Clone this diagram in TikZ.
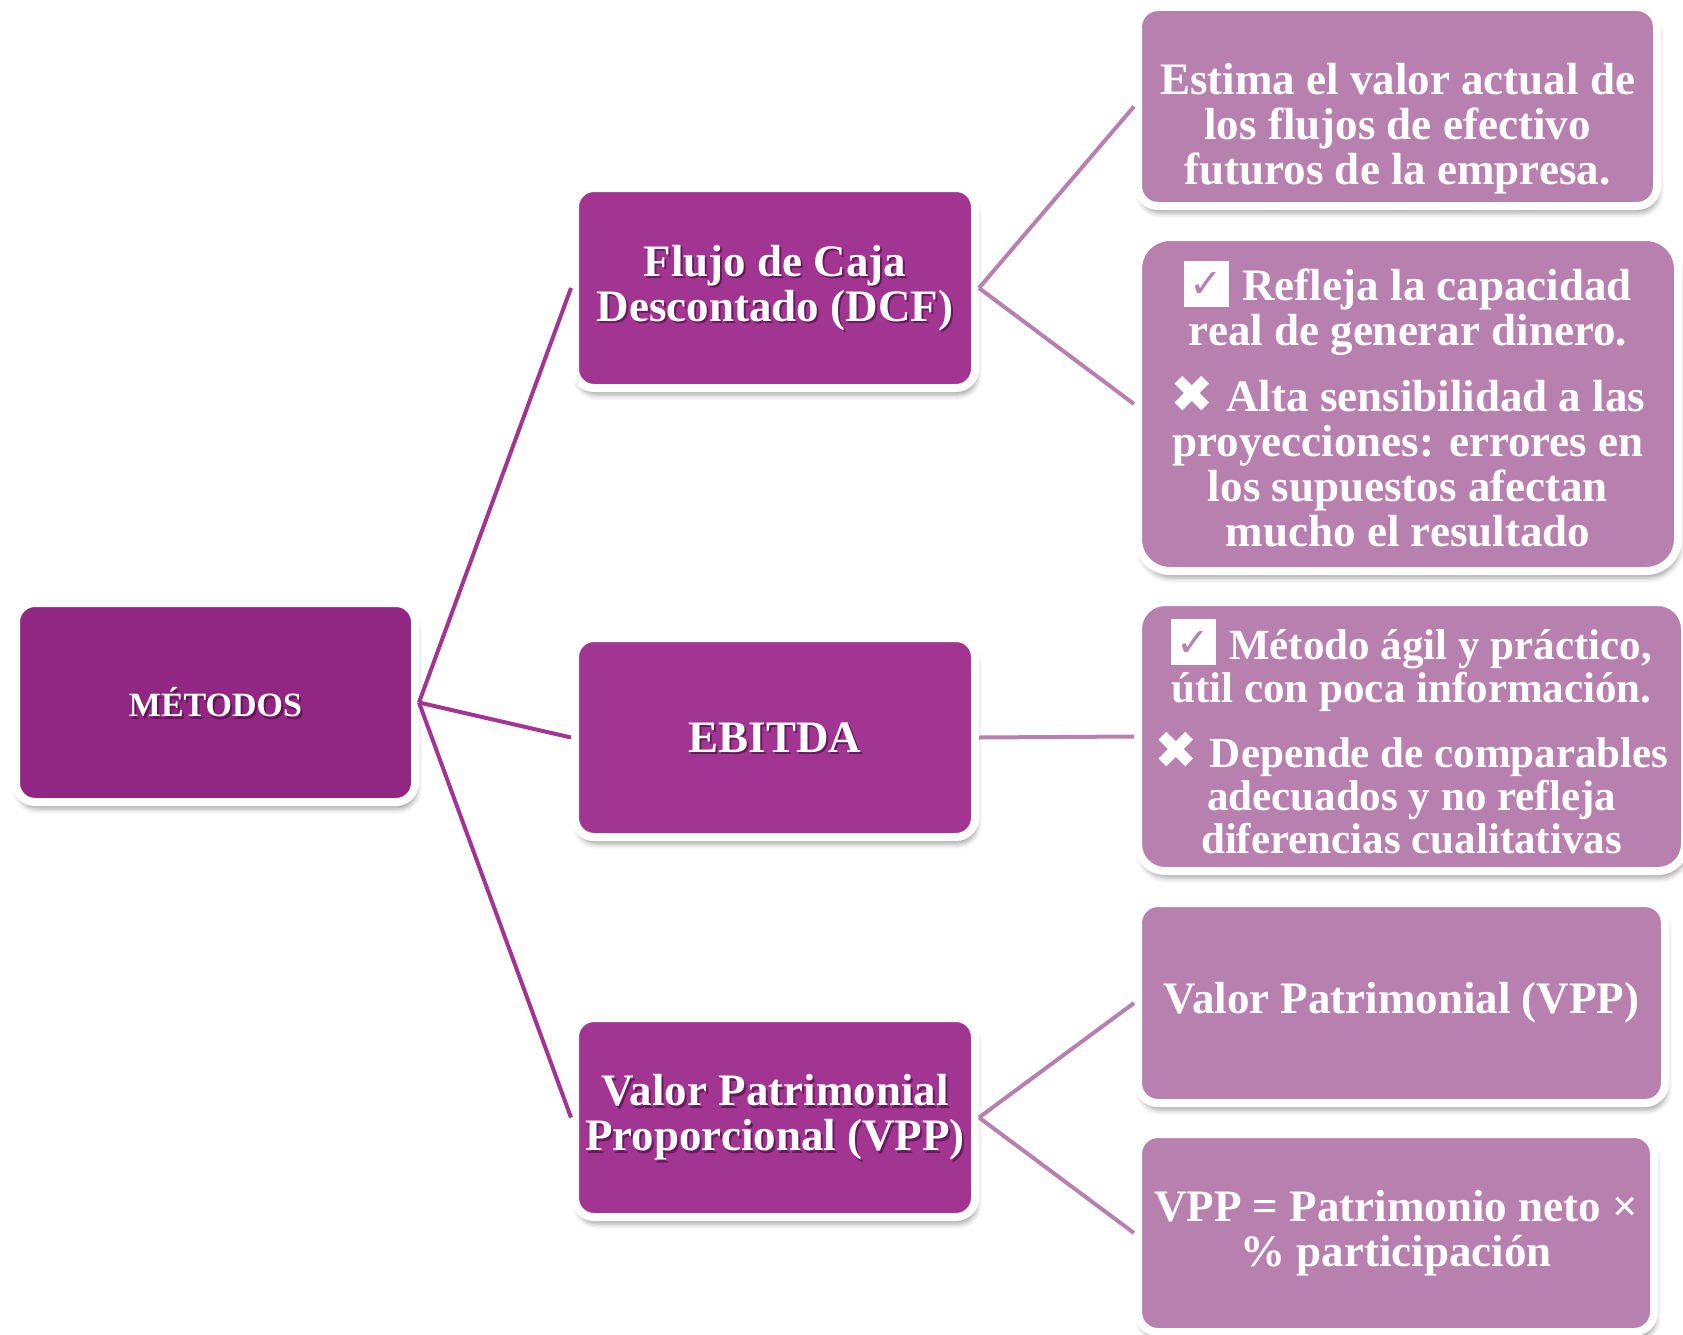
\documentclass[tikz,border=0pt]{standalone}
\usepackage{fontspec}
\setmainfont{Liberation Serif}
\newfontfamily\djv{DejaVu Sans}
\usetikzlibrary{shadows,shadows.blur}
\definecolor{cA}{RGB}{146,39,131}
\definecolor{cB}{RGB}{162,52,146}
\definecolor{cC}{RGB}{184,128,174}
\definecolor{tsh}{RGB}{55,8,50}
\newcommand{\chk}{\raisebox{-6pt}{\setlength{\fboxsep}{0pt}\colorbox{white}{\makebox[45pt][c]{\rule{0pt}{46pt}\raisebox{9pt}{\textcolor{cC}{\djv\mdseries\fontsize{40}{40}\selectfont ✓}}}}}\hspace{13pt}}
\newcommand{\crs}{\raisebox{-1pt}{\djv\mdseries\fontsize{52}{52}\selectfont ✖}\hspace{12pt}}
\tikzset{
  box/.style={draw=white, line width=8pt, inner sep=0pt, align=center, text=white,
    blur shadow={shadow xshift=2pt, shadow yshift=-7pt, shadow blur radius=5pt, shadow opacity=35}},
  lvA/.style={box, fill=cA, rounded corners=19pt, font={\bfseries\fontsize{34}{36}\selectfont}},
  lvB/.style={box, fill=cB, rounded corners=19pt, font={\bfseries\fontsize{45}{45}\selectfont}},
  lvC/.style={box, fill=cC, font={\bfseries\fontsize{45}{45}\selectfont}},
  tshA/.style={path picture={\node[draw=none, fill=none, text=tsh, opacity=0.55, align=center, inner sep=0pt,
      font={\bfseries\fontsize{34}{36}\selectfont}] at ([shift={(2pt,-2.5pt)}]path picture bounding box.center) {#1};}},
  tshB/.style={path picture={\node[draw=none, fill=none, text=tsh, opacity=0.55, align=center, inner sep=0pt,
      font={\bfseries\fontsize{45}{45}\selectfont}] at ([shift={(2pt,-2.5pt)}]path picture bounding box.center) {#1};}},
  linkA/.style={draw=cB, line width=4pt},
  linkB/.style={draw=cC, line width=4pt},
}
\begin{document}
\begin{tikzpicture}[x=1pt, y=-1pt]
\useasboundingbox (0,0) rectangle (1683,1335);

\node[lvA, minimum width=399pt, minimum height=199pt, tshA={MÉTODOS}] (met) at (215.5,702.5) {MÉTODOS};

\node[lvB, minimum width=400pt, minimum height=200pt, tshB={Flujo de Caja\\Descontado (DCF)}] (dcf) at (775,288) {Flujo de Caja\\Descontado (DCF)};
\node[lvB, minimum width=400pt, minimum height=199pt, tshB={EBITDA}] (ebi) at (775,737.5) {EBITDA};
\node[lvB, minimum width=400pt, minimum height=199pt, tshB={Valor Patrimonial\\Proporcional (VPP)}] (vpp) at (775,1117.5) {Valor Patrimonial\\Proporcional (VPP)};

\node[lvC, rounded corners=20pt, minimum width=519pt, minimum height=199pt] (d1) at (1397.5,106.5)
  {\rule{0pt}{76pt}Estima el valor actual de\\los flujos de efectivo\\futuros de la empresa.};
\node[lvC, rounded corners=32pt, minimum width=540pt, minimum height=334pt] (d2) at (1408,404)
  {\chk Refleja la capacidad\\real de generar dinero.\\[20pt]\crs Alta sensibilidad a las\\proyecciones: errores en\\los supuestos afectan\\mucho el resultado};
\node[lvC, rounded corners=27pt, minimum width=547pt, minimum height=269pt, font={\bfseries\fontsize{43}{43}\selectfont}] (e1) at (1411.5,736.5)
  {\chk Método ágil y práctico,\\útil con poca información.\\[20pt]\crs Depende de comparables\\adecuados y no refleja\\diferencias cualitativas};
\node[lvC, rounded corners=20pt, minimum width=527pt, minimum height=200pt] (v1) at (1401.5,1003)
  {Valor Patrimonial (VPP)};
\node[lvC, rounded corners=20pt, minimum width=516pt, minimum height=198pt] (v2) at (1396,1233)
  {VPP = Patrimonio neto ×\\\% participación};

\draw[linkA] (met.east) -- (dcf.west);
\draw[linkA] (met.east) -- (ebi.west);
\draw[linkA] (met.east) -- (vpp.west);
\draw[linkB] (dcf.east) -- (d1.west);
\draw[linkB] (dcf.east) -- (d2.west);
\draw[linkB] (ebi.east) -- (e1.west);
\draw[linkB] (vpp.east) -- (v1.west);
\draw[linkB] (vpp.east) -- (v2.west);
\end{tikzpicture}
\end{document}
